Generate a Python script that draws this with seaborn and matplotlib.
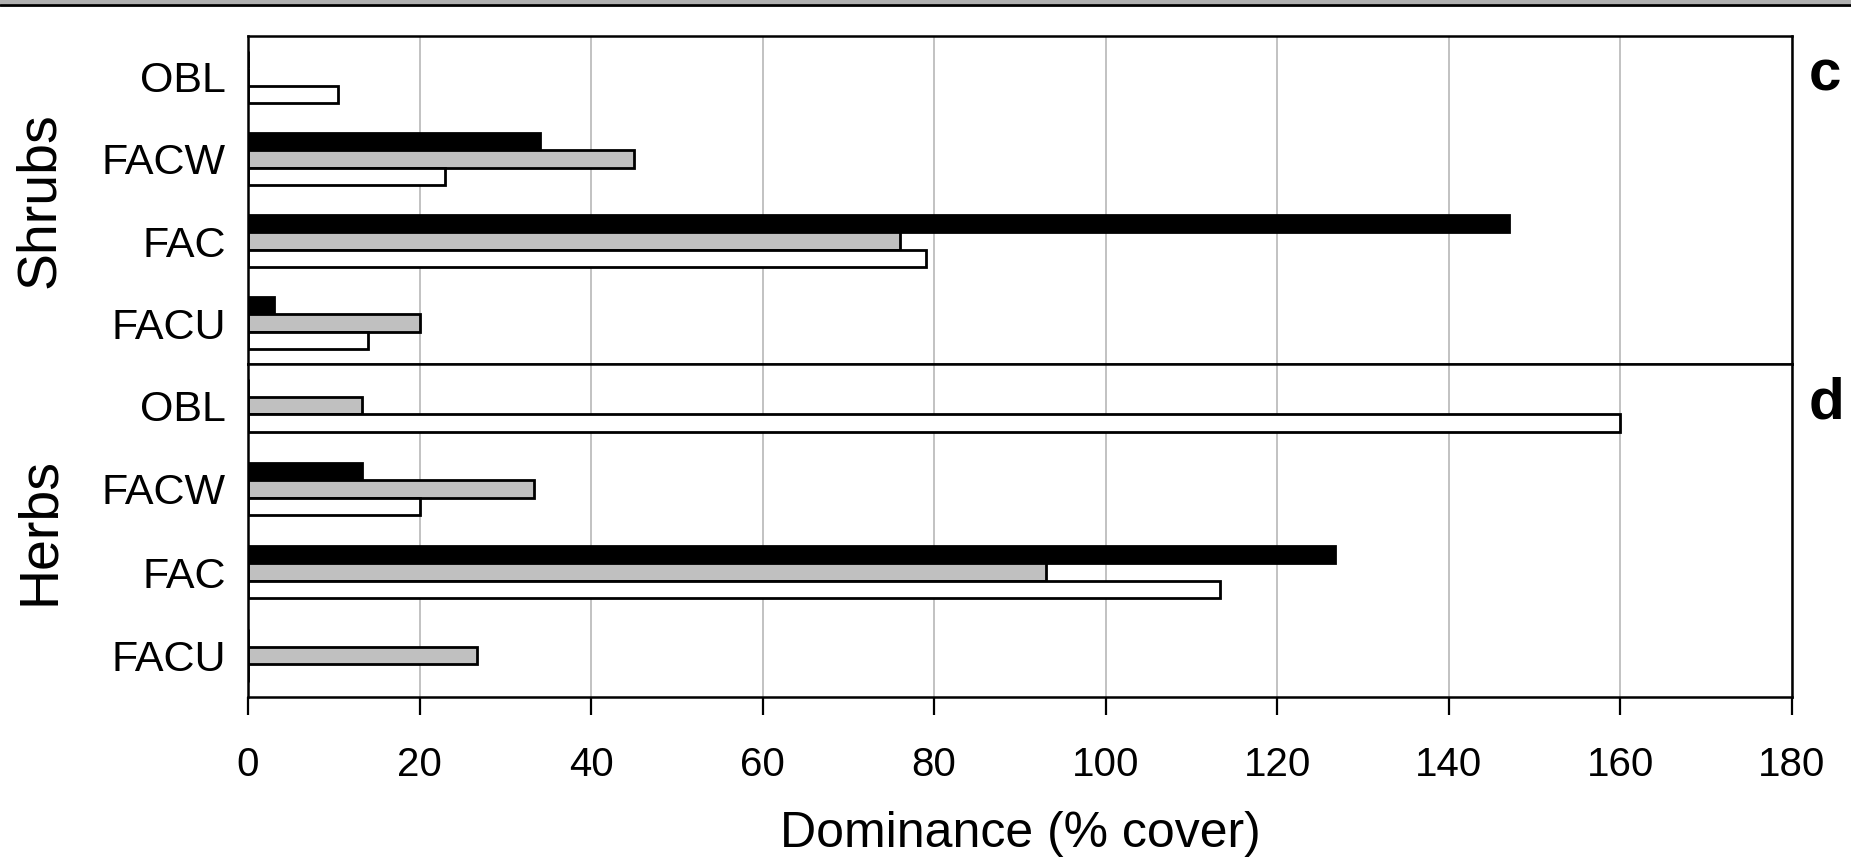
import matplotlib
matplotlib.use("Agg")
import matplotlib.pyplot as plt
from matplotlib.lines import Line2D
from matplotlib.patches import Rectangle
import seaborn as sns
import pandas as pd

sns.set_style("white")
plt.rcParams['font.family'] = ['Liberation Sans', 'DejaVu Sans']
plt.rcParams['text.color'] = 'black'
plt.rcParams['axes.labelcolor'] = 'black'
plt.rcParams['xtick.color'] = 'black'
plt.rcParams['ytick.color'] = 'black'

# 数据：湿地指示等级 x 三组（黑、灰、白）
classes = ["OBL", "FACW", "FAC", "FACU"]
groups = ["black", "gray", "white"]
shrubs_black = [0, 34, 147, 3]
shrubs_gray = [0, 45, 76, 20]
shrubs_white = [10.5, 23, 79, 14]
herbs_black = [0, 13.3, 126.7, 0]
herbs_gray = [13.3, 33.3, 93, 26.7]
herbs_white = [160, 20, 113.3, 0]
xticks = list(range(0, 181, 20))

colors = {"black": "#000000", "gray": "#c0c0c0", "white": "#ffffff"}


def make_df(black, gray, white):
    rows = []
    for g, vals in zip(groups, [black, gray, white]):
        for c, v in zip(classes, vals):
            rows.append({"cls": c, "grp": g, "val": v})
    return pd.DataFrame(rows)


fig = plt.figure(figsize=(18.51, 8.68), dpi=100)
ax_top = fig.add_axes([0.134, 0.5806, 0.834, 0.378])
ax_bot = fig.add_axes([0.134, 0.197, 0.834, 0.3836])

panels = [
    (ax_top, make_df(shrubs_black, shrubs_gray, shrubs_white), "Shrubs", "c"),
    (ax_bot, make_df(herbs_black, herbs_gray, herbs_white), "Herbs", "d"),
]

for ax, df, name, letter in panels:
    ax.set_axisbelow(True)
    ax.grid(True, axis='x', color='#bdbdbd', linewidth=1.3)
    sns.barplot(data=df, y="cls", x="val", hue="grp", order=classes,
                hue_order=groups, palette=colors, orient="h", width=0.63,
                edgecolor="black", linewidth=2.0, legend=False, ax=ax,
                errorbar=None, saturation=1)
    ax.set_xlim(0, 180)
    ax.set_xticks(xticks)
    ax.set_ylim(3.5, -0.5)
    for s in ax.spines.values():
        s.set_visible(True)
        s.set_color("black")
        s.set_linewidth(1.8)
    ax.tick_params(axis='y', left=False, length=0, pad=16, labelsize=31)
    ax.set_ylabel(name, fontsize=40, labelpad=26)
    ax.set_xlabel("")
    ax.text(1.011, 0.88, letter, transform=ax.transAxes,
            fontsize=42, fontweight='bold', ha='left', va='center')

ax_top.tick_params(axis='x', bottom=False, length=0, labelbottom=False)
ax_bot.tick_params(axis='x', bottom=True, direction='out', length=13,
                   width=1.6, pad=22, labelsize=29)
ax_bot.set_xlabel("Dominance (% cover)", fontsize=36, labelpad=20)

# 顶部的灰色边框
fig.add_artist(Rectangle((0, 0.995), 1, 0.005, transform=fig.transFigure,
                         facecolor='#b0b0b0', edgecolor='none'))
fig.add_artist(Line2D([0, 1], [0.9945, 0.9945], transform=fig.transFigure,
                      color='black', linewidth=2))

fig.savefig("out.png", dpi=100)
plt.close(fig)
